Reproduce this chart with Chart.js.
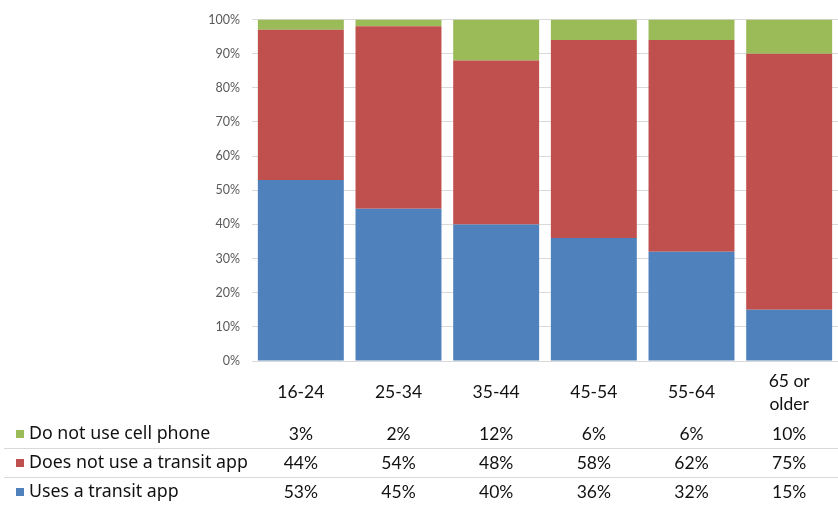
<!DOCTYPE html>
<html>
<head>
<meta charset="utf-8">
<script src="https://cdn.jsdelivr.net/npm/chart.js@4/dist/chart.umd.min.js"></script>
<style>
  html, body { margin: 0; padding: 0; background: #fff; }
  canvas { display: block; }
</style>
</head>
<body>
<canvas id="barChart" width="838" height="508"></canvas>
<script>
const ageGroups = ["16-24", "25-34", "35-44", "45-54", "55-64", ["65 or", "older"]];
const usesApp = [53, 45, 40, 36, 32, 15];
const noApp = [44, 54, 48, 58, 62, 75];
const noPhone = [3, 2, 12, 6, 6, 10];

const seriesNames = ["Do not use cell phone", "Does not use a transit app", "Uses a transit app"];
const seriesColors = ["#9BBB59", "#C0504D", "#4F81BD"];

const FONT = "Lato, 'Noto Sans', sans-serif";

// 100% stacked: share of each column total
function share(arr) {
  return arr.map((v, i) => v / (usesApp[i] + noApp[i] + noPhone[i]) * 100);
}

// draws the data table under the bars, lined up with the x scale
const dataTable = {
  id: "dataTable",
  afterDraw(chart) {
    const ctx = chart.ctx;
    const x = chart.scales.x;
    const rows = [noPhone, noApp, usesApp];
    const rowY = [434, 463, 492];
    ctx.save();
    ctx.strokeStyle = "#d9d9d9";
    ctx.lineWidth = 1;
    [448, 477].forEach(y => {
      ctx.beginPath();
      ctx.moveTo(4, y + 0.5);
      ctx.lineTo(838, y + 0.5);
      ctx.stroke();
    });
    ctx.textBaseline = "middle";
    rows.forEach((vals, r) => {
      ctx.fillStyle = seriesColors[r];
      ctx.fillRect(16, rowY[r] - 4, 8, 8);
      ctx.fillStyle = "#111";
      ctx.textAlign = "left";
      ctx.font = "17.8px 'Noto Sans', sans-serif";
      ctx.fillText(seriesNames[r], 29, rowY[r]);
      ctx.textAlign = "center";
      ctx.font = "17.5px " + FONT;
      vals.forEach((v, i) => {
        ctx.fillText(v + "%", x.getPixelForValue(i), rowY[r]);
      });
    });
    ctx.restore();
  }
};

const ctx = document.getElementById("barChart").getContext("2d");
new Chart(ctx, {
  type: "bar",
  data: {
    labels: ageGroups,
    datasets: [
      { label: seriesNames[2], data: share(usesApp), backgroundColor: seriesColors[2] },
      { label: seriesNames[1], data: share(noApp), backgroundColor: seriesColors[1] },
      { label: seriesNames[0], data: share(noPhone), backgroundColor: seriesColors[0] }
    ]
  },
  options: {
    responsive: false,
    animation: false,
    devicePixelRatio: 1,
    layout: { autoPadding: false, padding: { top: 15, right: 0, left: 0, bottom: 0 } },
    plugins: { legend: { display: false }, tooltip: { enabled: false } },
    datasets: { bar: { barPercentage: 0.88, categoryPercentage: 1 } },
    scales: {
      x: {
        stacked: true,
        grid: { display: false, drawTicks: false },
        border: { color: "#d9d9d9" },
        ticks: {
          color: "#111",
          padding: 20,
          crossAlign: "center",
          maxRotation: 0,
          font: { family: FONT, size: 17.5, lineHeight: 1.32 }
        },
        afterFit(scale) { scale.height = 147; }
      },
      y: {
        stacked: true,
        min: 0,
        max: 100,
        grid: { color: "#d9d9d9", drawTicks: false },
        border: { display: false },
        ticks: {
          stepSize: 10,
          padding: 12,
          color: "#595959",
          font: { family: FONT, size: 12.5 },
          callback: v => v + "%"
        },
        afterFit(scale) { scale.width = 252; }
      }
    }
  },
  plugins: [dataTable]
});
</script>
</body>
</html>
